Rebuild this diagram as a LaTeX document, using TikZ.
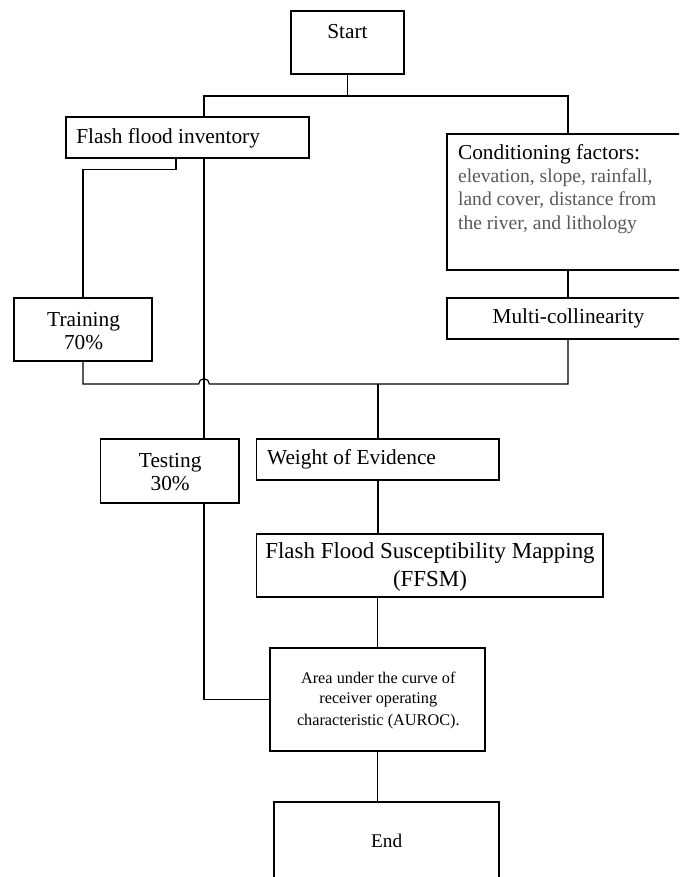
\documentclass[tikz,border=0pt]{standalone}
\usepackage{fontspec}
\setmainfont{Liberation Serif}
\usetikzlibrary{calc}
\definecolor{condgray}{RGB}{89,89,89}
\begin{document}
\begin{tikzpicture}[x=0.75pt,y=-0.75pt,
  box/.style={draw=black, line width=0.9pt, rectangle, inner sep=0pt},
  conn/.style={draw=black, line width=0.9pt},
  lbl/.style={inner sep=0pt, font=\fontsize{16}{19}\selectfont},
  graylbl/.style={inner sep=0pt, text=condgray, font=\fontsize{14.7}{18}\selectfont},
  small/.style={inner sep=0pt, font=\fontsize{12.2}{15}\selectfont},
  big/.style={inner sep=0pt, font=\fontsize{17.2}{21}\selectfont}]
\clip (0,0) rectangle (679,877);
\fill[white] (0,0) rectangle (679,877);

% boxes
\node[box, minimum width=84.75pt, minimum height=47.25pt] (start) at (347.5,42.5) {};
\node[box, minimum width=182.25pt, minimum height=30.75pt] (ffi) at (187.5,137.5) {};
\node[box, minimum width=181.5pt, minimum height=102pt] (cond) at (568,202) {};
\node[box, minimum width=181.5pt, minimum height=30.75pt] (multi) at (568,318.5) {};
\node[box, minimum width=103.5pt, minimum height=47.25pt] (train) at (83,329.5) {};
\node[box, minimum width=103.9pt, minimum height=48pt] (test) at (169.75,471) {};
\node[box, minimum width=181.9pt, minimum height=30.75pt] (woe) at (377.75,459.5) {};
\node[box, minimum width=259.9pt, minimum height=47.25pt] (ffsm) at (429.75,565.5) {};
\node[box, minimum width=161.25pt, minimum height=77.25pt] (auroc) at (377.5,699.5) {};
\node[box, minimum width=168.75pt, minimum height=66pt] (end) at (386.5,846) {};

% texts
\node[lbl, anchor=base] (tstart) at (347.5,38.3) {Start};
\node[lbl, anchor=base west] (tffi) at (76,144) {Flash flood inventory};
\node[lbl, anchor=base west] (tcond1) at (457.8,160) {Conditioning factors:};
\node[graylbl, anchor=base west] (tcond2) at (457.8,183) {elevation, slope, rainfall,};
\node[graylbl, anchor=base west] (tcond3) at (457.8,206) {land cover, distance from};
\node[graylbl, anchor=base west] (tcond4) at (457.8,229) {the river, and lithology};
\node[lbl, anchor=base] (tmulti) at (568.4,323) {Multi-collinearity};
\node[lbl, anchor=base] (ttrain1) at (83.6,326) {Training};
\node[lbl, anchor=base] (ttrain2) at (83.6,349) {70\%};
\node[lbl, anchor=base] (ttest1) at (170.2,467.7) {Testing};
\node[lbl, anchor=base] (ttest2) at (170.2,490.7) {30\%};
\node[lbl, anchor=base west] (twoe) at (266.8,464) {Weight of Evidence};
\node[big, anchor=base] (tffsm1) at (430,558.3) {Flash Flood Susceptibility Mapping};
\node[big, anchor=base] (tffsm2) at (430,586.7) {(FFSM)};
\node[small, anchor=base] (tau1) at (378.3,683.3) {Area under the curve of};
\node[small, anchor=base] (tau2) at (378.3,703.8) {receiver operating};
\node[small, anchor=base] (tau3) at (378.3,725) {characteristic (AUROC).};
\node[inner sep=0pt, font=\fontsize{14.5}{17}\selectfont, anchor=base] (tend) at (386.7,847.7) {End};

% helper coordinates
\coordinate (va) at (204,0);
\coordinate (j1) at (347.5,96);
\coordinate (j2) at (378,384);

% connectors
\draw[conn] (start.south) -- (j1);
\draw[conn] (ffi.north -| va) -- (va |- j1) -| (cond.north);
\draw[conn] ($(ffi.south)+(-11.5,0)$) -- ++(0,11) -| (train.north);
\draw[conn] (ffi.south -| va) -- (test.north -| va);
\draw[conn] (cond.south) -- (multi.north);
\draw[conn] (train.south) |- ($(va |- j2)+(-5.33,0)$) arc[start angle=180, end angle=0, radius=4pt] -| (multi.south);
\draw[conn] (j2) -- (j2 |- woe.north);
\draw[conn] (test.south -| va) |- (auroc.west);
\draw[conn] (woe.south -| j2) -- (j2 |- ffsm.north);
\draw[conn] (ffsm.south -| auroc.north) -- (auroc.north);
\draw[conn] (auroc.south) -- (auroc.south |- end.north);
\end{tikzpicture}
\end{document}
